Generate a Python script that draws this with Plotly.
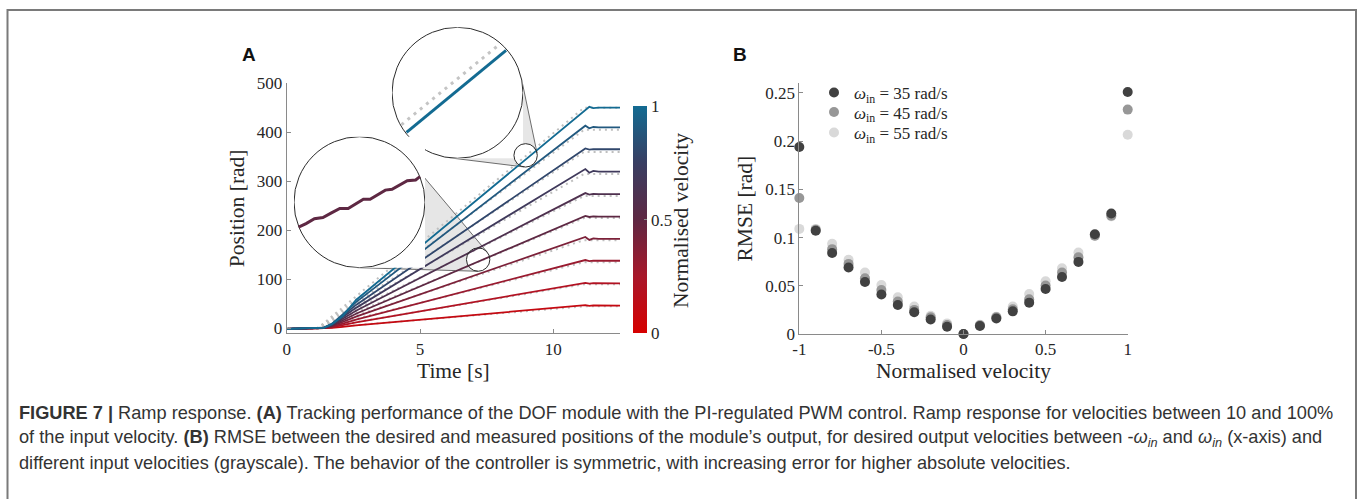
import numpy as np
import plotly.graph_objects as go
from plotly.colors import sample_colorscale

# ---------------- Panel A data ----------------
norm_vel_levels = [0.1, 0.2, 0.3, 0.4, 0.5, 0.6, 0.7, 0.8, 0.9, 1.0]

t_desired = [0, 1.15, 11.15, 12.5]
desired_plateau = [45, 90, 135, 180, 225, 270, 315, 360, 405, 450]

t_measured = [0, 1.15, 1.4, 1.7, 2.1, 2.6, 11.2, 11.35, 11.5, 11.7, 12.5]
pos_v01 = [-1, 0, 0.2, 1.1, 3.2, 6.1, 47.5, 46.0, 46.8, 46.5, 46.5]
pos_v02 = [-1, 0, 0.4, 2.2, 6.3, 12.1, 93.0, 91.5, 92.3, 92.0, 92.0]
pos_v03 = [-1, 0, 0.6, 3.3, 9.5, 18.1, 139.5, 137.3, 138.4, 138.0, 138.0]
pos_v04 = [-1, 0, 0.7, 4.4, 12.6, 23.9, 186.5, 180.5, 183.5, 182.5, 182.5]
pos_v05 = [-1, 0, 0.9, 5.5, 15.7, 29.9, 229.5, 227.3, 228.4, 228.0, 228.0]
pos_v06 = [-1, 0, 1.1, 6.6, 18.9, 35.9, 276.0, 273.0, 274.5, 274.0, 274.0]
pos_v07 = [-1, 0, 1.3, 7.7, 22.1, 41.9, 325.0, 317.5, 321.3, 320.0, 320.0]
pos_v08 = [-1, 0, 1.5, 8.8, 25.2, 47.9, 367.0, 364.8, 365.9, 365.5, 365.5]
pos_v09 = [-1, 0, 1.6, 9.8, 28.3, 53.7, 413.5, 408.3, 410.9, 410.0, 410.0]
pos_v10 = [-1, 0, 1.5, 8.5, 25.0, 58.0, 446.0, 452.0, 449.5, 450.5, 450.5]
measured_positions = [pos_v01, pos_v02, pos_v03, pos_v04, pos_v05,
                      pos_v06, pos_v07, pos_v08, pos_v09, pos_v10]

# magnified views
zoom_top_t_measured = [8.614, 9.290]
zoom_top_pos_measured = [338.4, 368.7]
zoom_top_t_desired = [8.619, 9.245]
zoom_top_pos_desired = [343.0, 370.9]
zoom_left_t = [6.772, 6.822, 6.878, 6.935, 6.992, 7.048, 7.104, 7.161, 7.206,
               7.251, 7.301, 7.353, 7.398, 7.450, 7.500, 7.556, 7.585]
zoom_left_pos = [131.3, 132.6, 134.4, 134.8, 136.5, 138.1, 138.1, 139.9, 141.5,
                 141.5, 143.0, 144.8, 145.1, 146.7, 148.2, 148.5, 149.7]

# ---------------- Panel B data ----------------
norm_velocity = [-1.0, -0.9, -0.8, -0.7, -0.6, -0.5, -0.4, -0.3, -0.2, -0.1, 0.0,
                 0.1, 0.2, 0.3, 0.4, 0.5, 0.6, 0.7, 0.8, 0.9, 1.0]
rmse_35 = [0.194, 0.107, 0.084, 0.069, 0.054, 0.041, 0.030, 0.0225, 0.015, 0.0076, 0.0,
           0.0083, 0.016, 0.0235, 0.0325, 0.0467, 0.0592, 0.0748, 0.1035, 0.125, 0.251]
rmse_45 = [0.141, 0.108, 0.088, 0.0727, 0.0578, 0.0457, 0.0336, 0.025, 0.0173, 0.0093, 0.0,
           0.009, 0.0173, 0.0256, 0.036, 0.0502, 0.0637, 0.0796, 0.102, 0.1226, 0.2327]
rmse_55 = [0.109, 0.109, 0.0935, 0.0769, 0.0637, 0.0509, 0.0381, 0.0284, 0.019, 0.011, 0.0,
           0.0097, 0.018, 0.0284, 0.0415, 0.0547, 0.0682, 0.0845, 0.1018, 0.122, 0.2067]
series_labels = ["<i>ω</i><sub>in</sub> = 35 rad/s",
                 "<i>ω</i><sub>in</sub> = 45 rad/s",
                 "<i>ω</i><sub>in</sub> = 55 rad/s"]

# ---------------- layout geometry (pixels) ----------------
W, H = 1360, 499
A_L, A_R, A_T, A_B = 286.7, 620.0, 83.3, 333.3
A_XR, A_YR = [0, 12.5], [-10, 500]
B_L, B_R, B_T, B_B = 799.3, 1127.7, 83.3, 334.0
B_XR, B_YR = [-1, 1], [0, 0.26]

SERIF = "Liberation Serif"
TXT = "#262626"
AXC = "#8a8a8a"
TICK_SIZE = 17
TITLE_SIZE = 21.5

def pxx(x):
    return x / W

def pxy(y):
    return 1 - y / H

def a_to_px(t, p):
    return (A_L + (t - A_XR[0]) / (A_XR[1] - A_XR[0]) * (A_R - A_L),
            A_B - (p - A_YR[0]) / (A_YR[1] - A_YR[0]) * (A_B - A_T))

colorscale = [[0.0, "#d60000"], [0.25, "#a8172a"], [0.5, "#5e2843"],
              [0.75, "#383e62"], [1.0, "#136b92"]]
line_colors = sample_colorscale(colorscale, norm_vel_levels)

fig = go.Figure()

# desired (dotted) lines
for v, plateau in zip(norm_vel_levels, desired_plateau):
    fig.add_trace(go.Scatter(
        x=t_desired, y=[0, 0, plateau, plateau], mode="lines",
        line=dict(color="#bfbfbf", width=2, dash="2px,4px"),
        showlegend=False, hoverinfo="skip", xaxis="x", yaxis="y"))

# measured lines
for v, pos, col in zip(norm_vel_levels, measured_positions, line_colors):
    fig.add_trace(go.Scatter(
        x=t_measured, y=pos, mode="lines",
        line=dict(color=col, width=1.8),
        showlegend=False, name=f"{v:.1f}", xaxis="x", yaxis="y"))

# colorbar holder
fig.add_trace(go.Scatter(
    x=[None], y=[None], mode="markers", showlegend=False, hoverinfo="skip",
    marker=dict(color=[0], cmin=0, cmax=1, colorscale=colorscale, showscale=True,
                colorbar=dict(x=633 / W, xanchor="left", y=pxy(333.3), yanchor="bottom",
                              len=(333.3 - 106) / H, lenmode="fraction",
                              thickness=14, thicknessmode="pixels", xpad=0, ypad=0,
                              outlinewidth=0, ticks="inside", ticklen=3, tickcolor=AXC,
                              tickvals=[0, 0.5, 1], ticktext=["0", "0.5", "1"],
                              tickfont=dict(family=SERIF, size=TICK_SIZE, color=TXT))),
    xaxis="x", yaxis="y"))

# Panel B scatter (light drawn first so dark sits on top); one legend box per series
for vals, col, lab, leg in [(rmse_55, "#d9d9d9", series_labels[2], "legend3"),
                            (rmse_45, "#979797", series_labels[1], "legend2"),
                            (rmse_35, "#414141", series_labels[0], "legend")]:
    fig.add_trace(go.Scatter(
        x=norm_velocity, y=vals, mode="markers", name=lab, cliponaxis=False, legend=leg,
        marker=dict(color=col, size=10, line=dict(width=0)),
        xaxis="x2", yaxis="y2"))

# ---------------- insets ----------------
R_BIG, R_SMALL = 65.5, 11.7
kx = (A_R - A_L) / (A_XR[1] - A_XR[0])
ky = (A_B - A_T) / (A_YR[1] - A_YR[0])
inset_specs = [
    dict(anchor=(8.96, 353.0), big=(457.5, 92.8)),
    dict(anchor=(7.18, 140.4), big=(359.5, 202.2)),
]
shapes = []
inset_axes = {}
for i, spec in enumerate(inset_specs):
    tc, pc = spec["anchor"]
    bx, by = spec["big"]
    hx, hy = R_SMALL / kx, R_SMALL / ky
    n = 3 + i
    xr = [tc - hx, tc + hx]
    yr = [pc - hy, pc + hy]
    inset_axes[f"xaxis{n}"] = dict(domain=[pxx(bx - R_BIG), pxx(bx + R_BIG)], range=xr,
                                   visible=False, anchor=f"y{n}", fixedrange=True)
    inset_axes[f"yaxis{n}"] = dict(domain=[pxy(by + R_BIG), pxy(by - R_BIG)], range=yr,
                                   visible=False, anchor=f"x{n}", fixedrange=True)
    # white magnifier disk (inside inset subplot, under its traces)
    shapes.append(dict(type="circle", xref=f"x{n}", yref=f"y{n}", layer="below",
                       x0=xr[0], x1=xr[1], y0=yr[0], y1=yr[1],
                       fillcolor="white", line=dict(color="#2b2b2b", width=1)))
    # cone between small and big circle
    sx, sy = a_to_px(tc, pc)
    S = np.array([sx, sy]); B = np.array([bx, by])
    d = np.linalg.norm(B - S); u = (B - S) / d
    a = (R_SMALL - R_BIG) / d
    phi = np.arccos(a)
    thu = np.arctan2(u[1], u[0])
    n1 = np.array([np.cos(thu + phi), np.sin(thu + phi)])
    n2 = np.array([np.cos(thu - phi), np.sin(thu - phi)])
    ps1, pb1 = S + R_SMALL * n1, B + R_BIG * n1
    ps2, pb2 = S + R_SMALL * n2, B + R_BIG * n2
    pts = [ps1, pb1, pb2, ps2]
    for ang in np.linspace(thu - phi, thu + phi, 40):
        pts.append(S + R_SMALL * np.array([np.cos(ang), np.sin(ang)]))
    path = "M " + " L ".join(f"{pxx(p[0]):.5f},{pxy(p[1]):.5f}" for p in pts) + " Z"
    shapes.append(dict(type="path", xref="paper", yref="paper", layer="below", path=path,
                       fillcolor="#e6e6e6", line=dict(width=0)))
    for ps, pb in [(ps1, pb1), (ps2, pb2)]:
        shapes.append(dict(type="line", xref="paper", yref="paper", layer="below",
                           x0=pxx(ps[0]), y0=pxy(ps[1]), x1=pxx(pb[0]), y1=pxy(pb[1]),
                           line=dict(color="#4a4a4a", width=0.8)))
    shapes.append(dict(type="circle", xref="paper", yref="paper", layer="above",
                       x0=pxx(sx - R_SMALL), x1=pxx(sx + R_SMALL),
                       y0=pxy(sy + R_SMALL), y1=pxy(sy - R_SMALL),
                       line=dict(color="#2b2b2b", width=1)))
    spec["ranges"] = (xr, yr)


def clip_to_circle(ts, ps, xr, yr):
    tc, pc = (xr[0] + xr[1]) / 2, (yr[0] + yr[1]) / 2
    hx, hy = (xr[1] - xr[0]) / 2, (yr[1] - yr[0]) / 2
    p0 = np.array([(ts[0] - tc) / hx, (ps[0] - pc) / hy])
    p1 = np.array([(ts[1] - tc) / hx, (ps[1] - pc) / hy])
    dv = p1 - p0
    A = dv @ dv; Bq = 2 * p0 @ dv; C = p0 @ p0 - 1
    disc = np.sqrt(Bq * Bq - 4 * A * C)
    s = [(-Bq - disc) / (2 * A), (-Bq + disc) / (2 * A)]
    out = [p0 + si * dv for si in s]
    return ([tc + o[0] * hx * 0.985 for o in out], [pc + o[1] * hy * 0.985 for o in out])

xr3, yr3 = inset_specs[0]["ranges"]
dt, dp = clip_to_circle(zoom_top_t_desired, zoom_top_pos_desired, xr3, yr3)
fig.add_trace(go.Scatter(x=dt, y=dp, mode="lines", xaxis="x3", yaxis="y3",
                         line=dict(color="#c4c4c4", width=3, dash="3px,5px"),
                         showlegend=False, hoverinfo="skip"))
mt, mp = clip_to_circle(zoom_top_t_measured, zoom_top_pos_measured, xr3, yr3)
fig.add_trace(go.Scatter(x=mt, y=mp, mode="lines", xaxis="x3", yaxis="y3",
                         line=dict(color=line_colors[9], width=3),
                         showlegend=False, hoverinfo="skip"))
fig.add_trace(go.Scatter(x=zoom_left_t, y=zoom_left_pos, mode="lines", xaxis="x4", yaxis="y4",
                         line=dict(color=line_colors[4], width=3),
                         showlegend=False, hoverinfo="skip"))

# frame around figure
shapes.append(dict(type="rect", xref="paper", yref="paper", layer="above",
                   x0=pxx(7.5), x1=pxx(1356), y0=-0.05, y1=pxy(10),
                   line=dict(color="#7a7a7a", width=2)))

axis_common = dict(showline=True, linecolor=AXC, linewidth=1, ticks="inside", ticklen=4,
                   tickcolor=AXC, showgrid=False, zeroline=False,
                   tickfont=dict(family=SERIF, size=TICK_SIZE, color=TXT))

annotations = [
    dict(text="<b>A</b>", x=pxx(240), y=pxy(42), xref="paper", yref="paper",
         showarrow=False, font=dict(family="Liberation Sans", size=19, color="#111")),
    dict(text="<b>B</b>", x=pxx(740), y=pxy(42), xref="paper", yref="paper",
         showarrow=False, font=dict(family="Liberation Sans", size=19, color="#111")),
    dict(text="Normalised velocity", textangle=-90, x=pxx(681), y=pxy(221),
         xref="paper", yref="paper", showarrow=False,
         font=dict(family=SERIF, size=TITLE_SIZE, color=TXT)),
]
caption = [
    "<b>FIGURE 7 |</b> Ramp response. <b>(A)</b> Tracking performance of the DOF module with the PI-regulated PWM control. Ramp response for velocities between 10 and 100%",
    "of the input velocity. <b>(B)</b> RMSE between the desired and measured positions of the module’s output, for desired output velocities between -<i>ω<sub>in</sub></i> and <i>ω<sub>in</sub></i> (x-axis) and",
    "different input velocities (grayscale). The behavior of the controller is symmetric, with increasing error for higher absolute velocities.",
]
for k, line in enumerate(caption):
    annotations.append(dict(text=line, x=pxx(17), y=pxy(413 + 25 * k), xanchor="left",
                            yanchor="middle", xref="paper", yref="paper", showarrow=False,
                            font=dict(family="Liberation Sans", size=18.2, color="#333333")))

legend_common = dict(xanchor="left", yanchor="top", bgcolor="rgba(0,0,0,0)",
                     font=dict(family=SERIF, size=17, color=TXT),
                     itemclick=False, itemdoubleclick=False)

fig.update_layout(
    width=W, height=H, margin=dict(l=0, r=0, t=0, b=0, pad=0, autoexpand=False),
    paper_bgcolor="white", plot_bgcolor="white",
    xaxis=dict(domain=[pxx(A_L), pxx(A_R)], range=A_XR, anchor="y",
               tickvals=[0, 5, 10], ticktext=["0", "5", "10"],
               title=dict(text="Time [s]", standoff=4, font=dict(family=SERIF, size=TITLE_SIZE, color=TXT)),
               **axis_common),
    yaxis=dict(domain=[pxy(A_B), pxy(A_T)], range=A_YR, anchor="x",
               tickvals=[0, 100, 200, 300, 400, 500],
               title=dict(text="Position [rad]", standoff=6, font=dict(family=SERIF, size=TITLE_SIZE, color=TXT)),
               **axis_common),
    xaxis2=dict(domain=[pxx(B_L), pxx(B_R)], range=B_XR, anchor="y2",
                tickvals=[-1, -0.5, 0, 0.5, 1], ticktext=["-1", "-0.5", "0", "0.5", "1"],
                title=dict(text="Normalised velocity", standoff=4, font=dict(family=SERIF, size=TITLE_SIZE, color=TXT)),
                **axis_common),
    yaxis2=dict(domain=[pxy(B_B), pxy(B_T)], range=B_YR, anchor="x2",
                tickvals=[0, 0.05, 0.1, 0.15, 0.2, 0.25],
                ticktext=["0", "0.05", "0.1", "0.15", "0.2", "0.25"],
                title=dict(text="RMSE [rad]", standoff=6, font=dict(family=SERIF, size=TITLE_SIZE, color=TXT)),
                **axis_common),
    legend=dict(x=pxx(814), y=pxy(75), **legend_common),
    legend2=dict(x=pxx(814), y=pxy(94.5), **legend_common),
    legend3=dict(x=pxx(814), y=pxy(115), **legend_common),
    shapes=shapes, annotations=annotations,
    **inset_axes,
)

fig.write_html("out.html", config={"displayModeBar": False},
               post_script="document.body.style.margin='0';document.body.style.overflow='hidden';")
